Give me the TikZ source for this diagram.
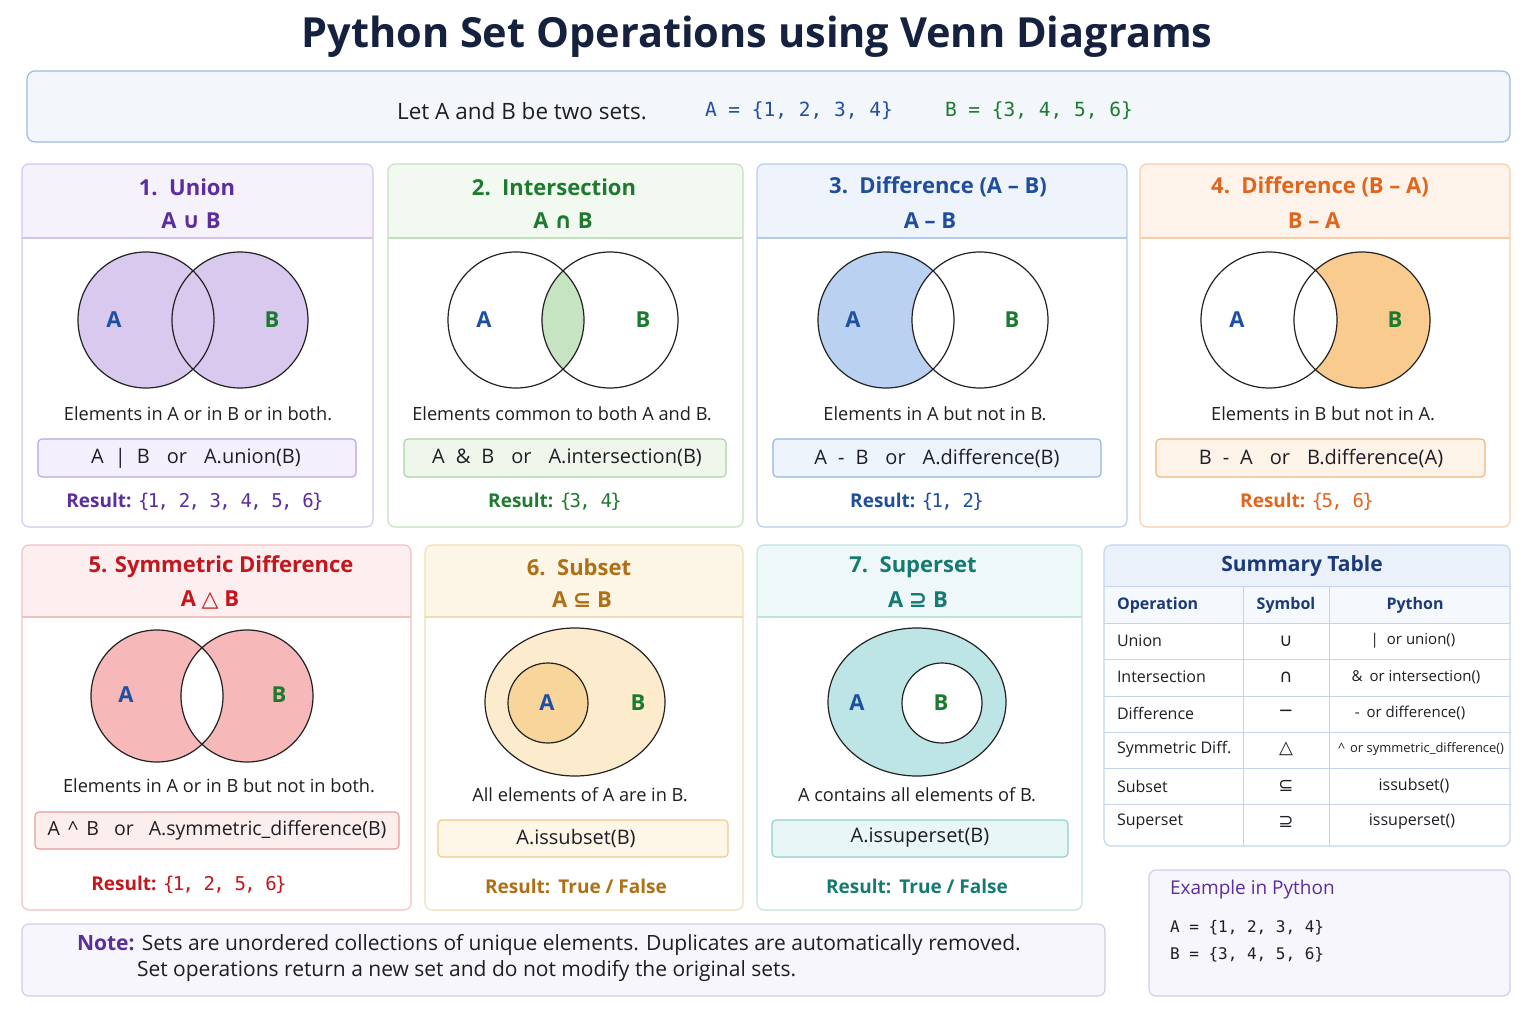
\documentclass[tikz,border=0pt]{standalone}
\usepackage{fontspec}
\setmainfont{Open Sans}
\setmonofont{DejaVu Sans Mono}
\newfontfamily\symf{DejaVu Sans}
\newfontfamily\resmono{DejaVu Sans Mono}[LetterSpace=-9]
\definecolor{navy}{HTML}{15213F}
\definecolor{txt}{HTML}{1E1E24}
\definecolor{setA}{HTML}{1D4FA3}
\definecolor{setB}{HTML}{1A7A2E}
\definecolor{vline}{HTML}{222222}
% purple
\definecolor{pudark}{HTML}{5B2D9E}\definecolor{puhead}{HTML}{F6F2FC}\definecolor{puline}{HTML}{D3C4EC}
\definecolor{pufill}{HTML}{D9C9EE}\definecolor{pucode}{HTML}{F4EFFC}\definecolor{pucline}{HTML}{B9A3E0}
% green
\definecolor{grdark}{HTML}{1E7A2E}\definecolor{grhead}{HTML}{F2F9F1}\definecolor{grline}{HTML}{C2E0BE}
\definecolor{grfill}{HTML}{C6E3C2}\definecolor{grcode}{HTML}{EFF7ED}\definecolor{grcline}{HTML}{A9D3A3}
% blue
\definecolor{bldark}{HTML}{1F4E9C}\definecolor{blhead}{HTML}{EFF4FC}\definecolor{blline}{HTML}{B5CBEA}
\definecolor{blfill}{HTML}{BAD1F2}\definecolor{blcode}{HTML}{EEF4FC}\definecolor{blcline}{HTML}{8FB3E6}
% orange
\definecolor{ordark}{HTML}{E0661E}\definecolor{orhead}{HTML}{FDF3EA}\definecolor{orline}{HTML}{F5CDA8}
\definecolor{orfill}{HTML}{F9CB8E}\definecolor{orcode}{HTML}{FEF3E8}\definecolor{orcline}{HTML}{F0B27A}
% red
\definecolor{redark}{HTML}{C4161C}\definecolor{rehead}{HTML}{FDEFEF}\definecolor{reline}{HTML}{F0C0C0}
\definecolor{refill}{HTML}{F6B8B8}\definecolor{recode}{HTML}{FDEEEE}\definecolor{recline}{HTML}{E79A9A}
% gold
\definecolor{godark}{HTML}{B06F14}\definecolor{gohead}{HTML}{FDF5E6}\definecolor{goline}{HTML}{F0DDB6}
\definecolor{gofill}{HTML}{FCEBCD}\definecolor{gofilltwo}{HTML}{F8D59A}\definecolor{gocode}{HTML}{FEF6E6}\definecolor{gocline}{HTML}{EBCB8B}
% teal
\definecolor{tedark}{HTML}{157A72}\definecolor{tehead}{HTML}{EEF8F8}\definecolor{teline}{HTML}{BFE2E0}
\definecolor{tefill}{HTML}{BDE5E6}\definecolor{tecode}{HTML}{E9F6F6}\definecolor{tecline}{HTML}{8FCFCB}
% table / misc
\definecolor{tbdark}{HTML}{1B3A78}\definecolor{tbhead}{HTML}{EAF1FB}\definecolor{tbrow}{HTML}{F5F8FD}
\definecolor{tbline}{HTML}{C3D4EC}
\definecolor{topfill}{HTML}{F3F7FC}\definecolor{topline}{HTML}{9BBBE3}
\definecolor{notefill}{HTML}{F8F6FD}\definecolor{noteline}{HTML}{D3C8EA}

\newcommand{\mypanel}[6]{%
  \begin{scope}
    \clip[rounded corners=7pt] (#1,#2) rectangle (#3,#4);
    \fill[#6head] (#1,#2) rectangle (#3,#5);
  \end{scope}
  \draw[#6line, line width=1.1pt] (#1,#5) -- (#3,#5);
  \draw[#6line, line width=1.1pt, rounded corners=7pt] (#1,#2) rectangle (#3,#4);
}
\newcommand{\mycodebox}[5]{%
  \draw[#5cline, fill=#5code, line width=1.1pt, rounded corners=4pt] (#1,#2) rectangle (#3,#4);
}
\newcommand{\rset}[1]{{\fontsize{19}{22}\resmono #1}}
\newcommand{\gapa}{\hspace{11pt}}
\newcommand{\gapb}{\hspace{17pt}}

\begin{document}
\begin{tikzpicture}[x=1pt,y=-1pt,
  every node/.style={inner sep=0pt, outer sep=0pt},
  ttl/.style={font=\fontsize{41.5}{48}\selectfont\bfseries, text=navy},
  ptitle/.style={font=\fontsize{22}{26}\selectfont\bfseries},
  desc/.style={font=\fontsize{18.2}{22}\selectfont, text=txt},
  code/.style={font=\fontsize{20}{24}\selectfont, text=txt},
  res/.style={font=\fontsize{19}{23}\selectfont},
  lblA/.style={font=\fontsize{22}{26}\selectfont\bfseries, text=setA},
  lblB/.style={font=\fontsize{22}{26}\selectfont\bfseries, text=setB},
  venn/.style={draw=vline, line width=1.2pt},
  tcell/.style={font=\fontsize{16}{19}\selectfont, text=txt},
  pcell/.style={font=\fontsize{15}{18}\selectfont, text=txt},
  thead/.style={font=\fontsize{16}{19}\selectfont\bfseries, text=tbdark},
]
\useasboundingbox (0,0) rectangle (1536,1024);
\fill[white] (0,0) rectangle (1536,1024);

% ---------- title ----------
\node[ttl] (title) at (757,37) {Python Set Operations using Venn Diagrams};

% ---------- top box ----------
\draw[topline, fill=topfill, line width=1.2pt, rounded corners=8pt] (27,71) rectangle (1510,142);
\node[font=\fontsize{22.5}{26}\selectfont, text=txt] (lets) at (522,111) {Let A and B be two sets.};
\node[font=\fontsize{19.5}{22}\selectfont\ttfamily, text=setA, anchor=west] (seta) at (705,111) {A = \{1, 2, 3, 4\}};
\node[font=\fontsize{19.5}{22}\selectfont\ttfamily, text=setB, anchor=west] (setb) at (945,111) {B = \{3, 4, 5, 6\}};

% ---------- 1. Union ----------
\mypanel{22}{164}{373}{527}{238}{pu}
\node[ptitle, text=pudark] (t1) at (187,187) {1.\ \ Union};
\node[ptitle, text=pudark] (s1) at (191,221) {A {\symf ∪} B};
\fill[pufill] (146,320) circle (68pt);
\fill[pufill] (240,320) circle (68pt);
\draw[venn] (146,320) circle (68pt) (240,320) circle (68pt);
\node[lblA] (a1) at (114,320) {A};
\node[lblB] (b1) at (272,320) {B};
\node[desc] (d1) at (198,414) {Elements in A or in B or in both.};
\mycodebox{38}{439}{356}{477}{pu}
\node[code] (c1) at (196,458) {A\gapa|\gapa B\gapb or\gapb A.union(B)};
\node[res, text=pudark] (r1) at (195,502) {\textbf{Result:} \rset{\{1, 2, 3, 4, 5, 6\}}};

% ---------- 2. Intersection ----------
\mypanel{388}{164}{743}{527}{238}{gr}
\node[ptitle, text=grdark] (t2) at (554,187) {2.\ \ Intersection};
\node[ptitle, text=grdark] (s2) at (563,221) {A {\symf ∩} B};
\begin{scope}
  \clip (516,320) circle (68pt);
  \fill[grfill] (610,320) circle (68pt);
\end{scope}
\draw[venn] (516,320) circle (68pt) (610,320) circle (68pt);
\node[lblA] (a2) at (484,320) {A};
\node[lblB] (b2) at (643,320) {B};
\node[desc] (d2) at (562,414) {Elements common to both A and B.};
\mycodebox{404}{439}{726}{477}{gr}
\node[code] (c2) at (567,458) {A\gapa\&\gapa B\gapb or\gapb A.intersection(B)};
\node[res, text=grdark] (r2) at (555,502) {\textbf{Result:} \rset{\{3, 4\}}};

% ---------- 3. Difference A-B ----------
\mypanel{757}{164}{1127}{527}{238}{bl}
\node[ptitle, text=bldark] (t3) at (938,187) {3.\ \ Difference (A – B)};
\node[ptitle, text=bldark] (s3) at (930,221) {A – B};
\fill[blfill] (886,320) circle (68pt);
\fill[white] (980,320) circle (68pt);
\draw[venn] (886,320) circle (68pt) (980,320) circle (68pt);
\node[lblA] (a3) at (853,320) {A};
\node[lblB] (b3) at (1012,320) {B};
\node[desc] (d3) at (935,414) {Elements in A but not in B.};
\mycodebox{773}{439}{1101}{477}{bl}
\node[code] (c3) at (937,458) {A\gapa-\gapa B\gapb or\gapb A.difference(B)};
\node[res, text=bldark] (r3) at (917,502) {\textbf{Result:} \rset{\{1, 2\}}};

% ---------- 4. Difference B-A ----------
\mypanel{1140}{164}{1510}{527}{238}{or}
\node[ptitle, text=ordark] (t4) at (1320,187) {4.\ \ Difference (B – A)};
\node[ptitle, text=ordark] (s4) at (1314,221) {B – A};
\fill[orfill] (1362,320) circle (68pt);
\fill[white] (1269,320) circle (68pt);
\draw[venn] (1269,320) circle (68pt) (1362,320) circle (68pt);
\node[lblA] (a4) at (1237,320) {A};
\node[lblB] (b4) at (1395,320) {B};
\node[desc] (d4) at (1323,414) {Elements in B but not in A.};
\mycodebox{1156}{439}{1485}{477}{or}
\node[code] (c4) at (1321,458) {B\gapa-\gapa A\gapb or\gapb B.difference(A)};
\node[res, text=ordark] (r4) at (1307,502) {\textbf{Result:} \rset{\{5, 6\}}};

% ---------- 5. Symmetric difference ----------
\mypanel{22}{545}{411}{910}{617}{re}
\node[ptitle, text=redark] (t5) at (221,567) {5. Symmetric Difference};
\node[ptitle, text=redark] (s5) at (210,600) {A {\symf △} B};
\fill[refill, even odd rule] (157,696) circle (66pt) (247,696) circle (66pt);
\draw[venn] (157,696) circle (66pt) (247,696) circle (66pt);
\node[lblA] (a5) at (126,695) {A};
\node[lblB] (b5) at (279,695) {B};
\node[desc] (d5) at (219,786) {Elements in A or in B but not in both.};
\mycodebox{35}{812}{399}{849}{re}
\node[code, font=\fontsize{19.5}{23}\selectfont] (c5) at (217,830) {A\hspace{8pt}\^{}\hspace{8pt}B\hspace{15pt}or\hspace{15pt}A.symmetric\_difference(B)};
\node[res, text=redark] (r5) at (189,885) {\textbf{Result:} \rset{\{1, 2, 5, 6\}}};

% ---------- 6. Subset ----------
\mypanel{425}{545}{743}{910}{617}{go}
\node[ptitle, text=godark] (t6) at (579,567) {6.\ \ Subset};
\node[ptitle, text=godark] (s6) at (582,600) {A {\symf ⊆} B};
\draw[venn, fill=gofill] (575,702) ellipse [x radius=90pt, y radius=74pt];
\draw[venn, fill=gofilltwo] (548,703) circle (40pt);
\node[lblA] (a6) at (547,703) {A};
\node[lblB] (b6) at (638,703) {B};
\node[desc] (d6) at (580,795) {All elements of A are in B.};
\mycodebox{438}{820}{728}{857}{go}
\node[code] (c6) at (576,838) {A.issubset(B)};
\node[res, text=godark, font=\fontsize{19}{23}\selectfont\bfseries] (r6) at (576,886) {Result:\hspace{8pt}True / False};

% ---------- 7. Superset ----------
\mypanel{757}{545}{1082}{910}{617}{te}
\node[ptitle, text=tedark] (t7) at (913,567) {7.\ \ Superset};
\node[ptitle, text=tedark] (s7) at (918,600) {A {\symf ⊇} B};
\draw[venn, fill=tefill] (917,702) ellipse [x radius=89pt, y radius=74pt];
\draw[venn, fill=white] (942,703) circle (40pt);
\node[lblA] (a7) at (857,703) {A};
\node[lblB] (b7) at (941,703) {B};
\node[desc] (d7) at (917,795) {A contains all elements of B.};
\mycodebox{772}{820}{1068}{857}{te}
\node[code] (c7) at (920,838) {A.issuperset(B)};
\node[res, text=tedark, font=\fontsize{19}{23}\selectfont\bfseries] (r7) at (917,886) {Result:\hspace{8pt}True / False};

% ---------- Summary table ----------
\begin{scope}
  \clip[rounded corners=7pt] (1104,545) rectangle (1510,846);
  \fill[white] (1104,545) rectangle (1510,846);
  \fill[tbhead] (1104,545) rectangle (1510,586);
  \fill[tbrow] (1104,586) rectangle (1510,623);
\end{scope}
\foreach \yy in {586,623,659,696,732,768,804}
  \draw[tbline, line width=1pt] (1104,\yy) -- (1510,\yy);
\draw[tbline, line width=1pt] (1243,586) -- (1243,846);
\draw[tbline, line width=1pt] (1329,586) -- (1329,846);
\draw[tbline, line width=1.1pt, rounded corners=7pt] (1104,545) rectangle (1510,846);
\node[font=\fontsize{21}{25}\selectfont\bfseries, text=tbdark] (sumt) at (1302,566) {Summary Table};
\node[thead, anchor=west] (h1) at (1117,605) {Operation};
\node[thead] (h2) at (1286,605) {Symbol};
\node[thead] (h3) at (1415,605) {Python};
\node[tcell, anchor=west] (o1) at (1117,641) {Union};
\node[tcell, anchor=west] (o2) at (1117,677) {Intersection};
\node[tcell, anchor=west] (o3) at (1117,713) {Difference};
\node[tcell, anchor=west] (o4) at (1117,749) {Symmetric Diff.};
\node[tcell, anchor=west] (o5) at (1117,786) {Subset};
\node[tcell, anchor=west] (o6) at (1117,822) {Superset};
\node[font=\fontsize{18}{21}\symf, text=txt] (y1) at (1286,641) {∪};
\node[font=\fontsize{18}{21}\symf, text=txt] (y2) at (1286,677) {∩};
\node[font=\fontsize{18}{21}\symf, text=txt] (y3) at (1286,713) {−};
\node[font=\fontsize{18}{21}\symf, text=txt] (y4) at (1286,749) {△};
\node[font=\fontsize{18}{21}\symf, text=txt] (y5) at (1286,786) {⊆};
\node[font=\fontsize{18}{21}\symf, text=txt] (y6) at (1286,822) {⊇};
\node[pcell] (p1) at (1413,641) {|\hspace{8pt}or union()};
\node[pcell] (p2) at (1416,677) {\&\hspace{7pt}or intersection()};
\node[pcell] (p3) at (1410,713) {-\hspace{7pt}or difference()};
\node[pcell] (p4) at (1421,749) {\resizebox{166pt}{!}{\fontsize{15}{18}\selectfont\^{}\hspace{6pt}or symmetric\_difference()}};
\node[pcell, font=\fontsize{16}{19}\selectfont] (p5) at (1414,786) {issubset()};
\node[pcell, font=\fontsize{16}{19}\selectfont] (p6) at (1412,822) {issuperset()};

% ---------- Example box ----------
\draw[noteline, fill=notefill, line width=1.1pt, rounded corners=7pt] (1149,870) rectangle (1510,996);
\node[font=\fontsize{19}{23}\selectfont, text=pudark, anchor=west] (ex) at (1170,890) {Example in Python};
\node[font=\fontsize{16}{20}\selectfont\ttfamily, text=txt, anchor=west] (exa) at (1170,928) {A = \{1, 2, 3, 4\}};
\node[font=\fontsize{16}{20}\selectfont\ttfamily, text=txt, anchor=west] (exb) at (1170,955) {B = \{3, 4, 5, 6\}};

% ---------- Note box ----------
\draw[noteline, fill=notefill, line width=1.1pt, rounded corners=7pt] (22,924) rectangle (1105,996);
\node[font=\fontsize{21}{25}\selectfont, text=txt, anchor=west] (n1) at (77,945) {\textbf{\color{pudark}Note:} Sets are unordered collections of unique elements. Duplicates are automatically removed.};
\node[font=\fontsize{21}{25}\selectfont, text=txt, anchor=west] (n2) at (137,971) {Set operations return a new set and do not modify the original sets.};
\end{tikzpicture}
\end{document}
